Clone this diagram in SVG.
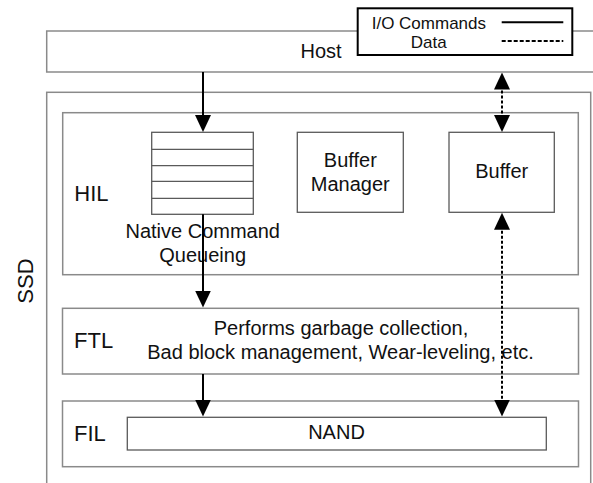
<svg xmlns="http://www.w3.org/2000/svg" width="593" height="483" viewBox="0 0 593 483">
<defs>
<style>
.layer{fill:#fff;stroke:#8a8a8a;stroke-width:1.5}
.inner{fill:#fff;stroke:#5a5a5a;stroke-width:1.3}
.qline{stroke:#5a5a5a;stroke-width:1.2}
text{font-family:"Liberation Sans",Arial,sans-serif;fill:#111}
.t20{font-size:20px}
.t22{font-size:22px}
.t17{font-size:17px}
.mid{text-anchor:middle}
.cmd{stroke:#000;stroke-width:2;fill:none}
.dat{stroke:#000;stroke-width:2;fill:none;stroke-dasharray:3 2}
</style>
<marker id="ah" markerUnits="userSpaceOnUse" viewBox="0 0 17 16" refX="9" refY="8" markerWidth="17" markerHeight="16" orient="auto-start-reverse">
<path d="M0,0 L17,8 L0,16 z" fill="#000"/>
</marker>
</defs>
<rect width="593" height="483" fill="#fff"/>

<g id="host">
<rect class="layer" x="46.7" y="31" width="560" height="41"/>
<text class="t20 mid" x="321" y="57.5">Host</text>
</g>

<g id="ssd">
<rect class="layer" x="46.7" y="92.3" width="544" height="400"/>
<text class="t22 mid" transform="translate(33.3,281) rotate(-90)">SSD</text>
</g>

<g id="hil">
<rect class="layer" x="62.7" y="112.7" width="515.6" height="162"/>
<text class="t22" x="74.3" y="200.7">HIL</text>
</g>

<g id="ncq">
<rect class="inner" x="151.7" y="132.3" width="101.6" height="82"/>
<line class="qline" x1="151.7" y1="149.3" x2="253.3" y2="149.3"/>
<line class="qline" x1="151.7" y1="165.7" x2="253.3" y2="165.7"/>
<line class="qline" x1="151.7" y1="181.3" x2="253.3" y2="181.3"/>
<line class="qline" x1="151.7" y1="198.3" x2="253.3" y2="198.3"/>
<text class="t20 mid" x="202.7" y="237.7">Native Command</text>
<text class="t20 mid" x="202.7" y="262.3">Queueing</text>
</g>

<g id="buffer-manager">
<rect class="inner" x="297.3" y="132.3" width="106" height="80"/>
<text class="t20 mid" x="350.3" y="166.7">Buffer</text>
<text class="t20 mid" x="350.3" y="190.7">Manager</text>
</g>

<g id="buffer">
<rect class="inner" x="449" y="132.3" width="105.3" height="80"/>
<text class="t20 mid" x="501.7" y="177.7">Buffer</text>
</g>

<g id="ftl">
<rect class="layer" x="62.5" y="308.3" width="516" height="65.7"/>
<text class="t22" x="74" y="347.7">FTL</text>
<text class="t20 mid" x="341" y="335">Performs garbage collection,</text>
<text class="t20 mid" x="340.5" y="359">Bad block management, Wear-leveling, etc.</text>
</g>

<g id="fil">
<rect class="layer" x="62.5" y="401" width="516" height="65.7"/>
<text class="t22" x="74" y="441">FIL</text>
</g>

<g id="nand">
<rect class="inner" x="127.3" y="417.3" width="419" height="32.7"/>
<text class="t20 mid" x="336.5" y="439.3">NAND</text>
</g>

<g id="connectors">
<line class="cmd" x1="203" y1="72" x2="203" y2="124" marker-end="url(#ah)"/>
<line class="cmd" x1="203" y1="214.3" x2="203" y2="299.5" marker-end="url(#ah)"/>
<line class="cmd" x1="203" y1="374" x2="203" y2="408.5" marker-end="url(#ah)"/>
<line class="dat" x1="502" y1="80.5" x2="502" y2="124" marker-start="url(#ah)" marker-end="url(#ah)"/>
<line class="dat" x1="502" y1="220.8" x2="502" y2="408.5" marker-start="url(#ah)" marker-end="url(#ah)"/>
</g>

<g id="legend">
<rect x="357.7" y="8.3" width="214.6" height="46.7" fill="#fff" stroke="#000" stroke-width="2"/>
<text class="t17" x="371.7" y="29">I/O Commands</text>
<text class="t17 mid" x="428.7" y="48.3">Data</text>
<line x1="501.7" y1="22.3" x2="563.3" y2="22.3" stroke="#000" stroke-width="2"/>
<line x1="501.7" y1="41" x2="563.3" y2="41" stroke="#000" stroke-width="2" stroke-dasharray="4 2"/>
</g>
</svg>
